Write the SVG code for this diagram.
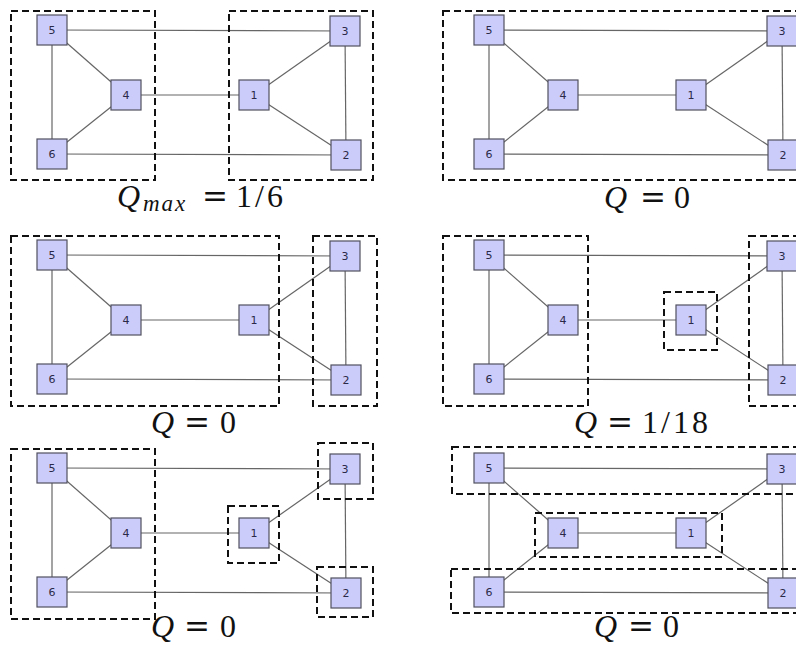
<svg xmlns="http://www.w3.org/2000/svg" width="796" height="647" viewBox="0 0 796 647">
<style>
.e{stroke:#666;stroke-width:1.2;fill:none}
.box{fill:none;stroke:#111;stroke-width:2;stroke-dasharray:7 4}
.n rect{fill:#ccccfa;stroke:#505060;stroke-width:1.2}
.n text{font-family:"DejaVu Sans",sans-serif;font-size:11px;fill:#2a2a48;text-anchor:middle;dominant-baseline:central}
.lbl{font-family:"Liberation Serif",serif;font-size:32px;fill:#111}
.it{font-style:italic}
.eq{font-family:"DejaVu Serif",serif;font-size:31px}
.num{letter-spacing:3px}
</style>
<defs>
<g id="edges">
<line class="e" x1="52" y1="30" x2="345" y2="31"/>
<line class="e" x1="52" y1="30" x2="126" y2="95"/>
<line class="e" x1="52" y1="30" x2="52" y2="154"/>
<line class="e" x1="126" y1="95" x2="254" y2="95"/>
<line class="e" x1="126" y1="95" x2="52" y2="154"/>
<line class="e" x1="52" y1="154" x2="346" y2="155"/>
<line class="e" x1="254" y1="95" x2="345" y2="31"/>
<line class="e" x1="254" y1="95" x2="346" y2="155"/>
<line class="e" x1="345" y1="31" x2="346" y2="155"/>
</g>
</defs>

<!-- Panel 1 -->
<g id="panel1">
<g id="p1-connectors"><use href="#edges"/></g>
<g id="p1-groups">
<rect class="box" x="11" y="11" width="144" height="169"/>
<rect class="box" x="229" y="11" width="144" height="169"/>
</g>
<g id="p1-n5" class="n"><rect x="37" y="15" width="30" height="30"/><text x="52" y="30">5</text></g>
<g id="p1-n3" class="n"><rect x="330" y="16" width="30" height="30"/><text x="345" y="31">3</text></g>
<g id="p1-n4" class="n"><rect x="111" y="80" width="30" height="30"/><text x="126" y="95">4</text></g>
<g id="p1-n1" class="n"><rect x="239" y="80" width="30" height="30"/><text x="254" y="95">1</text></g>
<g id="p1-n6" class="n"><rect x="37" y="139" width="30" height="30"/><text x="52" y="154">6</text></g>
<g id="p1-n2" class="n"><rect x="331" y="140" width="30" height="30"/><text x="346" y="155">2</text></g>
</g>

<!-- Panel 2 -->
<g id="panel2" transform="translate(437,0)">
<g id="p2-connectors"><use href="#edges"/></g>
<g id="p2-groups">
<rect class="box" x="6" y="11" width="400" height="169"/>
</g>
<g id="p2-n5" class="n"><rect x="37" y="15" width="30" height="30"/><text x="52" y="30">5</text></g>
<g id="p2-n3" class="n"><rect x="330" y="16" width="30" height="30"/><text x="345" y="31">3</text></g>
<g id="p2-n4" class="n"><rect x="111" y="80" width="30" height="30"/><text x="126" y="95">4</text></g>
<g id="p2-n1" class="n"><rect x="239" y="80" width="30" height="30"/><text x="254" y="95">1</text></g>
<g id="p2-n6" class="n"><rect x="37" y="139" width="30" height="30"/><text x="52" y="154">6</text></g>
<g id="p2-n2" class="n"><rect x="331" y="140" width="30" height="30"/><text x="346" y="155">2</text></g>
</g>

<!-- Panel 3 -->
<g id="panel3" transform="translate(0,225)">
<g id="p3-connectors"><use href="#edges"/></g>
<g id="p3-groups">
<rect class="box" x="11" y="11" width="268" height="170"/>
<rect class="box" x="313" y="11" width="64" height="170"/>
</g>
<g id="p3-n5" class="n"><rect x="37" y="15" width="30" height="30"/><text x="52" y="30">5</text></g>
<g id="p3-n3" class="n"><rect x="330" y="16" width="30" height="30"/><text x="345" y="31">3</text></g>
<g id="p3-n4" class="n"><rect x="111" y="80" width="30" height="30"/><text x="126" y="95">4</text></g>
<g id="p3-n1" class="n"><rect x="239" y="80" width="30" height="30"/><text x="254" y="95">1</text></g>
<g id="p3-n6" class="n"><rect x="37" y="139" width="30" height="30"/><text x="52" y="154">6</text></g>
<g id="p3-n2" class="n"><rect x="331" y="140" width="30" height="30"/><text x="346" y="155">2</text></g>
</g>

<!-- Panel 4 -->
<g id="panel4" transform="translate(437,225)">
<g id="p4-connectors"><use href="#edges"/></g>
<g id="p4-groups">
<rect class="box" x="6" y="11" width="145" height="170"/>
<rect class="box" x="227" y="67" width="53" height="58"/>
<rect class="box" x="312" y="11" width="100" height="170"/>
</g>
<g id="p4-n5" class="n"><rect x="37" y="15" width="30" height="30"/><text x="52" y="30">5</text></g>
<g id="p4-n3" class="n"><rect x="330" y="16" width="30" height="30"/><text x="345" y="31">3</text></g>
<g id="p4-n4" class="n"><rect x="111" y="80" width="30" height="30"/><text x="126" y="95">4</text></g>
<g id="p4-n1" class="n"><rect x="239" y="80" width="30" height="30"/><text x="254" y="95">1</text></g>
<g id="p4-n6" class="n"><rect x="37" y="139" width="30" height="30"/><text x="52" y="154">6</text></g>
<g id="p4-n2" class="n"><rect x="331" y="140" width="30" height="30"/><text x="346" y="155">2</text></g>
</g>

<!-- Panel 5 -->
<g id="panel5" transform="translate(0,438)">
<g id="p5-connectors"><use href="#edges"/></g>
<g id="p5-groups">
<rect class="box" x="11" y="11" width="144" height="170"/>
<rect class="box" x="318" y="5" width="55" height="56"/>
<rect class="box" x="228" y="68" width="51" height="57"/>
<rect class="box" x="317" y="129" width="56" height="50"/>
</g>
<g id="p5-n5" class="n"><rect x="37" y="15" width="30" height="30"/><text x="52" y="30">5</text></g>
<g id="p5-n3" class="n"><rect x="330" y="16" width="30" height="30"/><text x="345" y="31">3</text></g>
<g id="p5-n4" class="n"><rect x="111" y="80" width="30" height="30"/><text x="126" y="95">4</text></g>
<g id="p5-n1" class="n"><rect x="239" y="80" width="30" height="30"/><text x="254" y="95">1</text></g>
<g id="p5-n6" class="n"><rect x="37" y="139" width="30" height="30"/><text x="52" y="154">6</text></g>
<g id="p5-n2" class="n"><rect x="331" y="140" width="30" height="30"/><text x="346" y="155">2</text></g>
</g>

<!-- Panel 6 -->
<g id="panel6" transform="translate(437,438)">
<g id="p6-connectors"><use href="#edges"/></g>
<g id="p6-groups">
<rect class="box" x="15" y="9" width="400" height="47"/>
<rect class="box" x="98" y="75" width="187" height="44"/>
<rect class="box" x="14" y="131" width="400" height="44"/>
</g>
<g id="p6-n5" class="n"><rect x="37" y="15" width="30" height="30"/><text x="52" y="30">5</text></g>
<g id="p6-n3" class="n"><rect x="330" y="16" width="30" height="30"/><text x="345" y="31">3</text></g>
<g id="p6-n4" class="n"><rect x="111" y="80" width="30" height="30"/><text x="126" y="95">4</text></g>
<g id="p6-n1" class="n"><rect x="239" y="80" width="30" height="30"/><text x="254" y="95">1</text></g>
<g id="p6-n6" class="n"><rect x="37" y="139" width="30" height="30"/><text x="52" y="154">6</text></g>
<g id="p6-n2" class="n"><rect x="331" y="140" width="30" height="30"/><text x="346" y="155">2</text></g>
</g>

<!-- Labels -->
<g id="labels">
<text class="lbl" y="207"><tspan class="it" x="117">Q</tspan><tspan class="it" x="143" y="211" font-size="23" letter-spacing="2">max</tspan> <tspan class="eq" x="202" y="207">=</tspan> <tspan class="num" x="236">1/6</tspan></text>
<text class="lbl" y="208"><tspan class="it" x="604">Q</tspan> <tspan class="eq" x="640">=</tspan> <tspan x="674">0</tspan></text>
<text class="lbl" y="433"><tspan class="it" x="151">Q</tspan> <tspan class="eq" x="184">=</tspan> <tspan x="220">0</tspan></text>
<text class="lbl" y="433"><tspan class="it" x="574">Q</tspan> <tspan class="eq" x="607">=</tspan> <tspan class="num" x="642">1/18</tspan></text>
<text class="lbl" y="637"><tspan class="it" x="151">Q</tspan> <tspan class="eq" x="184">=</tspan> <tspan x="220">0</tspan></text>
<text class="lbl" y="637"><tspan class="it" x="594">Q</tspan> <tspan class="eq" x="628">=</tspan> <tspan x="663">0</tspan></text>
</g>
</svg>
